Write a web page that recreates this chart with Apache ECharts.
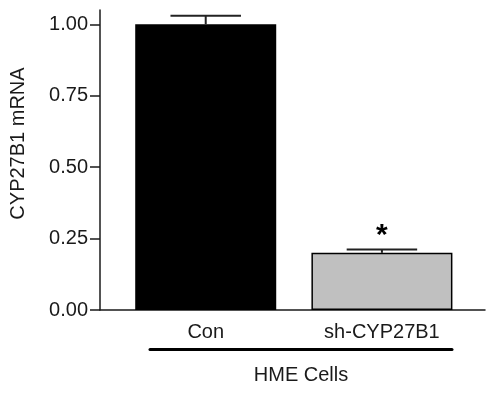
<!DOCTYPE html>
<html>
<head>
<meta charset="utf-8">
<script src="https://cdn.jsdelivr.net/npm/echarts@6/dist/echarts.min.js"></script>
<style>
	html, body { margin: 0; padding: 0; background: #fff; }
	#chart { width: 496px; height: 395px; }
</style>
</head>
<body>
<div id="chart"></div>
<script>
	// 数据
	var categories = ['Con', 'sh-CYP27B1'];
	var means = [1.00, 0.20];
	var errors = [0.03, 0.012];
	var significant = [false, true];
	var yTicks = [0, 0.25, 0.5, 0.75, 1.0];
	var groupLabel = 'HME Cells';

	var barColors = ['#000000', '#c0c0c0'];
	var font = 'Liberation Sans, Arial, sans-serif';

	var barData = [];
	for (var i = 0; i < means.length; i++) {
		barData.push([i, means[i]]);
	}
	var errData = [];
	for (var i = 0; i < means.length; i++) {
		errData.push([i, means[i], errors[i]]);
	}

	var myChart = echarts.init(document.getElementById('chart'));
	myChart.setOption({
		animation: false,
		grid: [
			{ left: 100, right: 11, top: 10, bottom: 85, outerBoundsMode: 'none', containLabel: false },
			// 下面的括号线
			{ left: 150, right: 44, top: 345, bottom: 46, outerBoundsMode: 'none', containLabel: false }
		],
		xAxis: [{
			type: 'value',
			gridIndex: 0,
			min: -0.6,
			max: 1.585,
			splitLine: { show: false },
			axisLine: { show: true, onZero: false, lineStyle: { color: '#1a1a1a', width: 1.5 } },
			axisTick: { show: false },
			axisLabel: {
				customValues: [0, 1],
				formatter: function (v) { return categories[Math.round(v)]; },
				color: '#1a1a1a',
				fontSize: 20,
				fontFamily: font,
				margin: 12
			}
		}, {
			type: 'category',
			gridIndex: 1,
			data: [''],
			axisLine: { show: true, lineStyle: { color: '#000', width: 3 } },
			axisTick: { show: false },
			axisLabel: { show: false },
			name: groupLabel,
			nameLocation: 'middle',
			nameGap: 16,
			nameTextStyle: { color: '#1a1a1a', fontSize: 20, fontFamily: font }
		}],
		yAxis: [{
			type: 'value',
			gridIndex: 0,
			min: 0,
			max: 1.05,
			splitLine: { show: false },
			axisLine: { show: true, onZero: false, lineStyle: { color: '#1a1a1a', width: 1.5 } },
			axisTick: { show: true, length: 10, customValues: yTicks, lineStyle: { color: '#1a1a1a', width: 1.5 } },
			axisLabel: {
				customValues: yTicks,
				formatter: function (v) { return v.toFixed(2); },
				color: '#1a1a1a',
				fontSize: 20,
				fontFamily: font,
				margin: 12
			},
			name: 'CYP27B1 mRNA',
			nameLocation: 'middle',
			nameGap: 72,
			nameRotate: 90,
			nameTextStyle: { color: '#1a1a1a', fontSize: 20, fontFamily: font, padding: [0, 0, 0, 33] }
		}, {
			type: 'value',
			gridIndex: 1,
			show: false
		}],
		series: [{
			type: 'bar',
			xAxisIndex: 0,
			yAxisIndex: 0,
			barWidth: 141,
			data: barData,
			itemStyle: {
				color: function (p) { return barColors[p.dataIndex]; },
				borderColor: '#000',
				borderWidth: 1.5
			}
		}, {
			type: 'custom',
			xAxisIndex: 0,
			yAxisIndex: 0,
			data: errData,
			z: 10,
			renderItem: function (params, api) {
				var x = api.value(0);
				var m = api.value(1);
				var e = api.value(2);
				var top = api.coord([x, m + e]);
				var base = api.coord([x, m]);
				var hw = api.size([0.2, 0])[0];
				var style = { stroke: '#222', lineWidth: 2 };
				var children = [
					{ type: 'line', shape: { x1: top[0], y1: top[1], x2: base[0], y2: base[1] }, style: style },
					{ type: 'line', shape: { x1: top[0] - hw, y1: top[1], x2: top[0] + hw, y2: top[1] }, style: style }
				];
				if (significant[params.dataIndex]) {
					children.push({
						type: 'text',
						style: {
							text: '*',
							x: top[0],
							y: top[1] + 1,
							align: 'center',
							verticalAlign: 'bottom',
							fontSize: 30,
							fontWeight: 'bold',
							fontFamily: font,
							fill: '#000'
						}
					});
				}
				return { type: 'group', children: children };
			}
		}]
	});
</script>
</body>
</html>
